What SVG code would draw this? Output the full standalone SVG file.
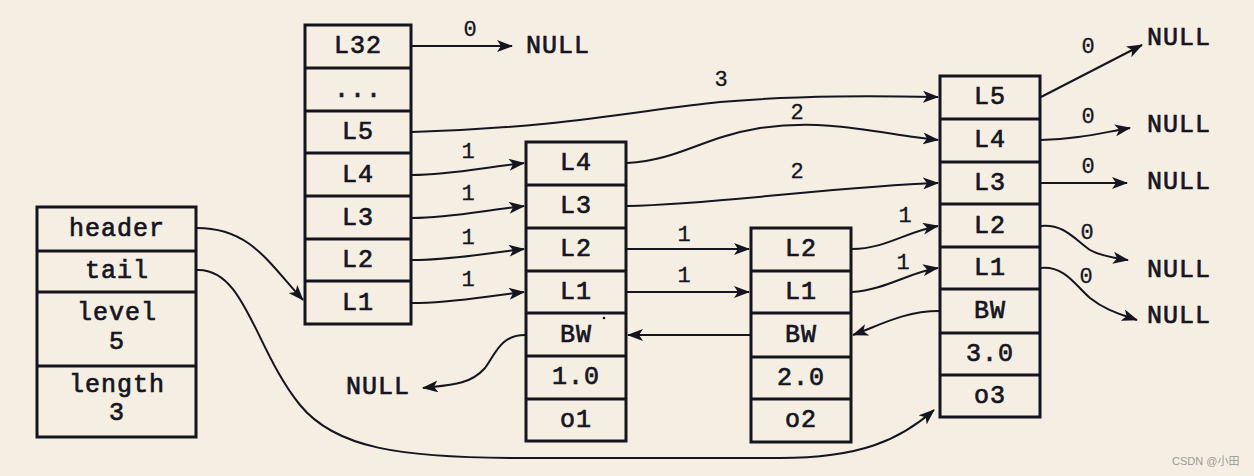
<svg xmlns="http://www.w3.org/2000/svg" width="1254" height="476" viewBox="0 0 1254 476">
<defs>
<style>
.bg{fill:#f4efe2}
.box{fill:#f4efe2;stroke:#15151f;stroke-width:3}
.div{stroke:#15151f;stroke-width:3}
.t{font-family:"Liberation Mono",monospace;font-size:25px;fill:#15151f;stroke:#15151f;stroke-width:0.7;text-anchor:middle;dominant-baseline:central;letter-spacing:1px}
.n{font-family:"Liberation Mono",monospace;font-size:22px;fill:#15151f;stroke:#15151f;stroke-width:0.3;text-anchor:middle;dominant-baseline:central}
.c{fill:none;stroke:#15151f;stroke-width:2;marker-end:url(#ah)}
.wm{font-family:"Liberation Sans","Noto Sans CJK SC",sans-serif;font-size:11px;fill:#9a9a9a}
</style>
<marker id="ah" markerUnits="userSpaceOnUse" markerWidth="16" markerHeight="12" refX="15" refY="6" orient="auto">
<path d="M0,0 L16,6 L0,12 L4,6 z" fill="#15151f"/>
</marker>
</defs>
<rect class="bg" x="0" y="0" width="1254" height="476"/>

<g id="skiplist">
<rect class="box" x="37" y="207" width="159" height="230"/>
<line class="div" x1="37" y1="251" x2="196" y2="251"/>
<line class="div" x1="37" y1="292" x2="196" y2="292"/>
<line class="div" x1="37" y1="366" x2="196" y2="366"/>
<text class="t" x="117" y="229">header</text>
<text class="t" x="117" y="271">tail</text>
<text class="t" x="117" y="313">level</text>
<text class="t" x="117" y="342">5</text>
<text class="t" x="117" y="385">length</text>
<text class="t" x="117" y="413">3</text>
</g>

<g id="header-node">
<rect class="box" x="305" y="25" width="106" height="299"/>
<line class="div" x1="305" y1="68" x2="411" y2="68"/>
<line class="div" x1="305" y1="111" x2="411" y2="111"/>
<line class="div" x1="305" y1="153" x2="411" y2="153"/>
<line class="div" x1="305" y1="196" x2="411" y2="196"/>
<line class="div" x1="305" y1="239" x2="411" y2="239"/>
<line class="div" x1="305" y1="281" x2="411" y2="281"/>
<text class="t" x="358" y="46">L32</text>
<text class="t" x="358" y="90">...</text>
<text class="t" x="358" y="132">L5</text>
<text class="t" x="358" y="175">L4</text>
<text class="t" x="358" y="218">L3</text>
<text class="t" x="358" y="260">L2</text>
<text class="t" x="358" y="303">L1</text>
</g>

<g id="node1">
<rect class="box" x="526" y="142" width="100" height="299"/>
<line class="div" x1="526" y1="185" x2="626" y2="185"/>
<line class="div" x1="526" y1="228" x2="626" y2="228"/>
<line class="div" x1="526" y1="271" x2="626" y2="271"/>
<line class="div" x1="526" y1="313" x2="626" y2="313"/>
<line class="div" x1="526" y1="356" x2="626" y2="356"/>
<line class="div" x1="526" y1="399" x2="626" y2="399"/>
<text class="t" x="576" y="163">L4</text>
<text class="t" x="576" y="206">L3</text>
<text class="t" x="576" y="249">L2</text>
<text class="t" x="576" y="292">L1</text>
<text class="t" x="576" y="335">BW</text>
<text class="t" x="576" y="377">1.0</text>
<text class="t" x="576" y="420">o1</text>
<circle cx="604" cy="318" r="1.3" fill="#15151f"/>
</g>

<g id="node2">
<rect class="box" x="751" y="228" width="100" height="214"/>
<line class="div" x1="751" y1="271" x2="851" y2="271"/>
<line class="div" x1="751" y1="313" x2="851" y2="313"/>
<line class="div" x1="751" y1="357" x2="851" y2="357"/>
<line class="div" x1="751" y1="399" x2="851" y2="399"/>
<text class="t" x="801" y="249">L2</text>
<text class="t" x="801" y="292">L1</text>
<text class="t" x="801" y="335">BW</text>
<text class="t" x="801" y="378">2.0</text>
<text class="t" x="801" y="420">o2</text>
</g>

<g id="node3">
<rect class="box" x="940" y="76" width="100" height="341"/>
<line class="div" x1="940" y1="119" x2="1040" y2="119"/>
<line class="div" x1="940" y1="162" x2="1040" y2="162"/>
<line class="div" x1="940" y1="204" x2="1040" y2="204"/>
<line class="div" x1="940" y1="247" x2="1040" y2="247"/>
<line class="div" x1="940" y1="289" x2="1040" y2="289"/>
<line class="div" x1="940" y1="333" x2="1040" y2="333"/>
<line class="div" x1="940" y1="375" x2="1040" y2="375"/>
<text class="t" x="990" y="97">L5</text>
<text class="t" x="990" y="140">L4</text>
<text class="t" x="990" y="183">L3</text>
<text class="t" x="990" y="226">L2</text>
<text class="t" x="990" y="268">L1</text>
<text class="t" x="990" y="311">BW</text>
<text class="t" x="990" y="354">3.0</text>
<text class="t" x="990" y="396">o3</text>
</g>

<g id="nulls">
<text class="t" x="558" y="46">NULL</text>
<text class="t" x="378" y="387">NULL</text>
<text class="t" x="1179" y="38">NULL</text>
<text class="t" x="1179" y="125">NULL</text>
<text class="t" x="1179" y="182">NULL</text>
<text class="t" x="1179" y="270">NULL</text>
<text class="t" x="1179" y="316">NULL</text>
</g>

<g id="connectors">
<path class="c" d="M197,228 C 250,228 268,262 303,300"/>
<path class="c" d="M197,270 C 245,268 255,350 300,405 C 335,448 400,458 520,458 L 780,458 C 860,458 900,440 934,410"/>
<path class="c" d="M412,46 L512,46"/>
<path class="c" d="M412,132 C 560,128 640,110 720,102 C 800,95 880,96 938,97"/>
<path class="c" d="M412,175 C 450,175 480,168 524,163"/>
<path class="c" d="M412,218 C 450,218 480,211 524,206"/>
<path class="c" d="M412,260 C 450,260 480,254 524,249"/>
<path class="c" d="M412,303 C 450,303 480,297 524,292"/>
<path class="c" d="M627,163 C 680,160 700,138 760,128 C 830,118 880,134 938,140"/>
<path class="c" d="M627,206 C 720,204 840,186 938,183"/>
<path class="c" d="M627,249 L749,249"/>
<path class="c" d="M627,292 L749,292"/>
<path class="c" d="M852,249 C 885,249 905,232 938,226"/>
<path class="c" d="M852,292 C 885,290 910,272 938,268"/>
<path class="c" d="M939,311 C 905,311 880,325 853,335"/>
<path class="c" d="M750,335 L628,335"/>
<path class="c" d="M525,335 C 500,335 495,355 485,368 C 470,385 450,385 423,388"/>
<path class="c" d="M1041,97 L1142,45"/>
<path class="c" d="M1041,140 C 1080,139 1100,133 1130,128"/>
<path class="c" d="M1041,183 L1127,183"/>
<path class="c" d="M1041,226 C 1065,224 1075,240 1090,250 C 1100,256 1115,258 1128,260"/>
<path class="c" d="M1041,268 C 1065,266 1075,285 1090,298 C 1105,310 1120,314 1137,320"/>
</g>

<g id="labels">
<text class="n" x="470" y="30">0</text>
<text class="n" x="721" y="80">3</text>
<text class="n" x="468" y="152">1</text>
<text class="n" x="468" y="194">1</text>
<text class="n" x="468" y="238">1</text>
<text class="n" x="468" y="280">1</text>
<text class="n" x="797" y="113">2</text>
<text class="n" x="797" y="172">2</text>
<text class="n" x="684" y="235">1</text>
<text class="n" x="684" y="276">1</text>
<text class="n" x="905" y="216">1</text>
<text class="n" x="903" y="263">1</text>
<text class="n" x="1088" y="47">0</text>
<text class="n" x="1088" y="117">0</text>
<text class="n" x="1088" y="167">0</text>
<text class="n" x="1087" y="233">0</text>
<text class="n" x="1086" y="277">0</text>
</g>

<text class="wm" x="1172" y="465">CSDN @小田</text>
</svg>
